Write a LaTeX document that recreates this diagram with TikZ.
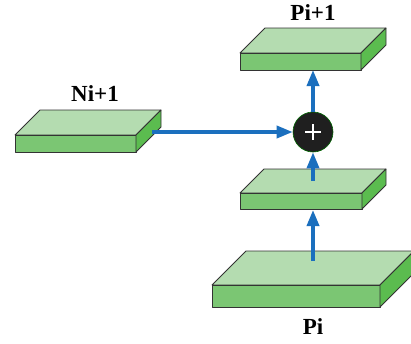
\documentclass[tikz,border=0pt]{standalone}
\usepackage{fontspec}
\setmainfont{Liberation Serif}
\usetikzlibrary{arrows.meta}
\definecolor{gtop}{HTML}{B4DCB0}
\definecolor{gfront}{HTML}{7BC673}
\definecolor{gside}{HTML}{5BBC4F}
\definecolor{edgec}{HTML}{333333}
\definecolor{arrowc}{HTML}{1B6FBE}
\tikzset{
  face/.style={draw=edgec,line width=0.8pt,line join=round},
  topface/.style={face,fill=gtop},
  frontface/.style={face,fill=gfront},
  sideface/.style={face,fill=gside},
  flow/.style={draw=arrowc,line width=3.5pt,-{Triangle[length=16pt,width=12pt]}},
  lab/.style={font=\bfseries\fontsize{23}{25}\selectfont,inner sep=0pt},
  sumnode/.style={circle,fill=black!88,draw=black!60!green,line width=0.6pt,minimum size=40pt,inner sep=0pt}
}
\newcommand\slab[6]{%
  \path (#2,#3) coordinate (#1-a) ++(#4,0) coordinate (#1-b) ++(0,#5) coordinate (#1-c) ++(-#4,0) coordinate (#1-d);
  \path (#1-a) ++(#6,-#6) coordinate (#1-e);
  \path (#1-b) ++(#6,-#6) coordinate (#1-f);
  \path (#1-c) ++(#6,-#6) coordinate (#1-g);
  \draw[topface] (#1-a)--(#1-e)--(#1-f)--(#1-b)--cycle;
  \draw[frontface] (#1-a)--(#1-b)--(#1-c)--(#1-d)--cycle;
  \draw[sideface] (#1-b)--(#1-f)--(#1-g)--(#1-c)--cycle;
}
\begin{document}
\begin{tikzpicture}[x=1pt,y=-1pt]
\clip (0,0) rectangle (411,343);
\fill[white] (0,0) rectangle (411,343);
\slab{top}{240}{53}{121}{17}{25}
\slab{mid}{240}{193}{122}{16}{24}
\slab{nb}{15}{135}{121}{17}{25}
\slab{bot}{212}{285}{168}{22}{34}
\node[sumnode] (sum) at (313,132) {};
\draw[white,line width=1.6pt] (sum.center) +(-8,0) -- +(8,0) (sum.center) +(0,-8) -- +(0,8);
\coordinate (b1) at (313,261);
\coordinate (b2) at (313,210);
\coordinate (m1) at (313,181);
\coordinate (t1) at (313,70);
\coordinate (n1) at (152,132);
\draw[flow] (b1) -- (b2);
\draw[flow] (m1) -- (sum.south);
\draw[flow] (sum.north) -- (t1);
\draw[flow] (n1) -- (sum.west);
\node[lab] (lp1) at (313,13) {Pi+1};
\node[lab] (ln1) at (95,94) {Ni+1};
\node[lab] (lp) at (313,327) {Pi};
\end{tikzpicture}
\end{document}
